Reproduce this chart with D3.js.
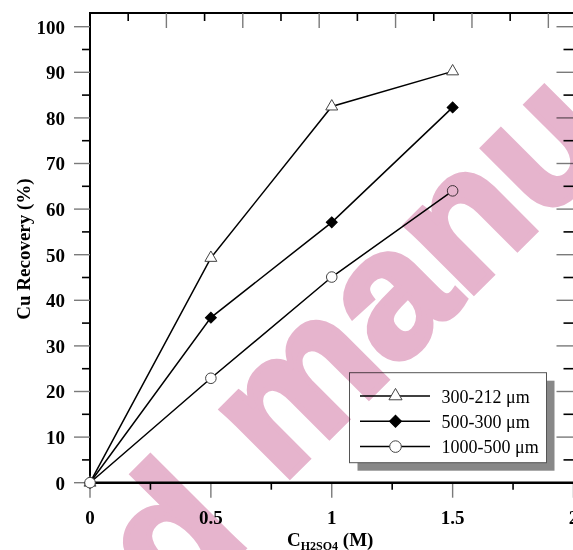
<!DOCTYPE html>
<html>
<head>
<meta charset="utf-8">
<script src="https://cdn.jsdelivr.net/npm/d3@7"></script>
<style>
  html, body { margin: 0; padding: 0; background: #fff; }
  svg { display: block; }
  .watermark { mix-blend-mode: multiply; }
</style>
</head>
<body>
<svg id="chart" width="573" height="550"></svg>
<script>
// Acid concentration (M) and copper recovery (%) for three particle size fractions
const concentration = [0, 0.5, 1, 1.5];
const recoveryFine = [0, 49.3, 82.5, 90.2];     // 300-212 µm
const recoveryMedium = [0, 36.2, 57.1, 82.3];   // 500-300 µm
const recoveryCoarse = [0, 22.9, 45.1, 64.0];   // 1000-500 µm
const seriesNames = ["300-212 \u03bcm", "500-300 \u03bcm", "1000-500 \u03bcm"];

// Axis ticks
const xMajorTicks = [0, 0.5, 1, 1.5, 2];
const xMinorTicks = [0.25, 0.75, 1.25, 1.75];
const yMajorTicks = [0, 10, 20, 30, 40, 50, 60, 70, 80, 90, 100];
const yMinorTicks = [5, 15, 25, 35, 45, 55, 65, 75, 85, 95];
const topTickStep = 0.158;
const watermarkParts = ["d", " manu"];

const svg = d3.select("#chart");
const serif = "'Liberation Serif', 'Times New Roman', serif";

const x = d3.scaleLinear().domain([0, 2]).range([90, 573.5]);
const y = d3.scaleLinear().domain([0, 100]).range([482.7, 26.7]);
const yTop = 103;

const plot = svg.append("g");

// Frame: top and left lines
plot.append("line").attr("x1", x(0)).attr("x2", 575).attr("y1", y(yTop)).attr("y2", y(yTop))
  .attr("stroke", "#000").attr("stroke-width", 2.2);
plot.append("line").attr("x1", x(0)).attr("x2", x(0)).attr("y1", y(yTop) - 1).attr("y2", y(0))
  .attr("stroke", "#000").attr("stroke-width", 2);

const major = { stroke: "#7a7a7a", width: 1.4 };
const minor = { stroke: "#000", width: 1.6 };

function tickLines(g, data, attrs, style) {
  g.selectAll(null).data(data).join("line")
    .attr("x1", attrs.x1).attr("x2", attrs.x2).attr("y1", attrs.y1).attr("y2", attrs.y2)
    .attr("stroke", style.stroke).attr("stroke-width", style.width);
}

// Left axis ticks (outward)
tickLines(plot, yMajorTicks, { x1: x(0) - 16, x2: x(0), y1: d => y(d), y2: d => y(d) }, major);
tickLines(plot, yMinorTicks, { x1: x(0) - 8, x2: x(0), y1: d => y(d), y2: d => y(d) }, minor);
// Right axis ticks (inward)
tickLines(plot, yMajorTicks, { x1: x(2) - 17, x2: x(2), y1: d => y(d), y2: d => y(d) }, major);
tickLines(plot, yMinorTicks, { x1: x(2) - 10, x2: x(2), y1: d => y(d), y2: d => y(d) }, minor);
// Bottom axis ticks (outward)
tickLines(plot, xMajorTicks, { x1: d => x(d), x2: d => x(d), y1: y(0), y2: y(0) + 15 }, major);
tickLines(plot, xMinorTicks, { x1: d => x(d), x2: d => x(d), y1: y(0), y2: y(0) + 7 }, minor);
// Top axis ticks (inward)
const topTicks = d3.range(1, 13).map(i => ({ v: i * topTickStep, major: i % 2 === 0 }));
tickLines(plot, topTicks.filter(d => d.major), { x1: d => x(d.v), x2: d => x(d.v), y1: y(yTop), y2: y(yTop) + 15 }, major);
tickLines(plot, topTicks.filter(d => !d.major), { x1: d => x(d.v), x2: d => x(d.v), y1: y(yTop), y2: y(yTop) + 8 }, minor);

// Bottom axis line
plot.append("line").attr("x1", x(0) - 1).attr("x2", 575).attr("y1", y(0)).attr("y2", y(0))
  .attr("stroke", "#000").attr("stroke-width", 2.5);

// Tick labels
plot.selectAll(null).data(yMajorTicks).join("text")
  .attr("x", 65).attr("y", d => y(d) + 6.8)
  .attr("text-anchor", "end")
  .attr("font-family", serif).attr("font-weight", "bold").attr("font-size", 19)
  .text(d => d);
plot.selectAll(null).data(xMajorTicks).join("text")
  .attr("x", d => x(d)).attr("y", 524)
  .attr("text-anchor", "middle")
  .attr("font-family", serif).attr("font-weight", "bold").attr("font-size", 19)
  .text(d => d3.format("~g")(d));

// Axis titles
plot.append("text")
  .attr("transform", "translate(30," + 249 + ") rotate(-90)")
  .attr("text-anchor", "middle")
  .attr("font-family", serif).attr("font-weight", "bold").attr("font-size", 19)
  .text("Cu Recovery (%)");
const xTitle = plot.append("text")
  .attr("x", 287).attr("y", 545.5)
  .attr("font-family", serif).attr("font-weight", "bold").attr("font-size", 19);
xTitle.append("tspan").text("C");
xTitle.append("tspan").attr("font-size", 12).attr("dy", 4.5).text("H2SO4");
xTitle.append("tspan").attr("dy", -4.5).text(" (M)");

// Series
const series = [
  { name: seriesNames[0], values: recoveryFine, symbol: d3.symbolTriangle, size: 62, rotate: 0, fill: "#fff", stroke: "#444" },
  { name: seriesNames[1], values: recoveryMedium, symbol: d3.symbolSquare, size: 60, rotate: 45, fill: "#000", stroke: "#000" },
  { name: seriesNames[2], values: recoveryCoarse, symbol: d3.symbolCircle, size: 88, rotate: 0, fill: "#fff", stroke: "#444" }
];

const line = d3.line().x(d => x(d[0])).y(d => y(d[1]));

series.forEach(s => {
  const pts = concentration.map((c, i) => [c, s.values[i]]);
  plot.append("path").attr("d", line(pts))
    .attr("fill", "none").attr("stroke", "#000").attr("stroke-width", 1.5);
});
series.forEach(s => {
  const pts = concentration.map((c, i) => [c, s.values[i]]);
  plot.selectAll(null).data(pts).join("path")
    .attr("d", d3.symbol().type(s.symbol).size(s.size))
    .attr("transform", d => `translate(${x(d[0])},${y(d[1])}) rotate(${s.rotate})`)
    .attr("fill", s.fill).attr("stroke", s.stroke).attr("stroke-width", 1);
});

// Legend with drop shadow
const legend = plot.append("g");
const lx = 349.5, ly = 372.7, lw = 197, lh = 90;
legend.append("rect").attr("x", lx + 8).attr("y", ly + 8).attr("width", lw).attr("height", lh)
  .attr("fill", "#888");
legend.append("rect").attr("x", lx).attr("y", ly).attr("width", lw).attr("height", lh)
  .attr("fill", "#fff").attr("stroke", "#555").attr("stroke-width", 1);
series.forEach((s, i) => {
  const ry = 396 + i * 25.3;
  legend.append("line").attr("x1", 360).attr("x2", 430).attr("y1", ry).attr("y2", ry)
    .attr("stroke", "#000").attr("stroke-width", 1.5);
  legend.append("path")
    .attr("d", d3.symbol().type(s.symbol).size(s.size * 1.2)())
    .attr("transform", `translate(395.5,${ry}) rotate(${s.rotate})`)
    .attr("fill", s.fill).attr("stroke", s.stroke).attr("stroke-width", 1);
  legend.append("text").attr("x", 441.5).attr("y", ry + 6.6)
    .attr("font-family", serif).attr("font-size", 18)
    .text(s.name);
});

// Watermark overlay (heavy outlined lettering, multiplied over the chart)
const wm = svg.append("text")
  .attr("class", "watermark")
  .attr("transform", "translate(168,598) rotate(-45)")
  .attr("font-family", "'Liberation Sans', Arial, sans-serif")
  .attr("font-weight", "bold").attr("font-size", 180)
  .attr("fill", "#e6b4cd")
  .attr("stroke", "#e6b4cd").attr("stroke-width", 6).attr("stroke-linejoin", "miter");
wm.append("tspan").attr("dx", -10).attr("dy", 18).text(watermarkParts[0]);
wm.append("tspan").attr("dx", 10).attr("dy", -18).text(watermarkParts[1]);
</script>
</body>
</html>
